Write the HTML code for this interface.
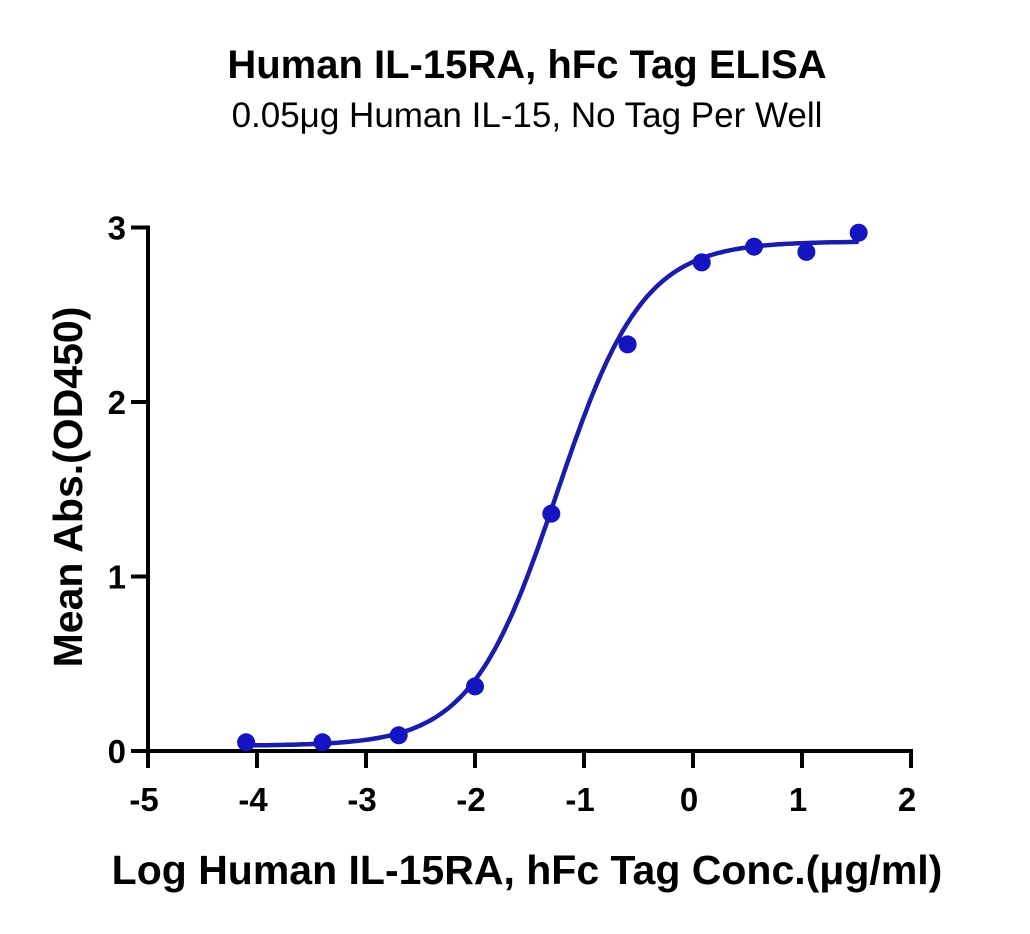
<!DOCTYPE html>
<html><head><meta charset="utf-8"><style>
body{margin:0;background:#fff;}
svg text{font-family:"Liberation Sans",Arial,sans-serif;}
</style></head><body>
<svg id="chart" width="1030" height="929" xmlns="http://www.w3.org/2000/svg">
<text x="527" y="78" text-anchor="middle" font-size="40" font-weight="bold">Human IL-15RA, hFc Tag ELISA</text>
<text x="527" y="127" text-anchor="middle" font-size="35">0.05μg Human IL-15, No Tag Per Well</text>
<text transform="translate(82,487) rotate(-90)" text-anchor="middle" font-size="41" font-weight="bold">Mean Abs.(OD450)</text>
<text x="527" y="884" text-anchor="middle" font-size="41" font-weight="bold">Log Human IL-15RA, hFc Tag Conc.(μg/ml)</text>
<g id="axes"></g>
<g id="marks"></g>
</svg>
<script>
const xTicks=[-5,-4,-3,-2,-1,0,1,2];
const yTicks=[0,1,2,3];
const xVals=[-4.1,-3.4,-2.7,-2.0,-1.3,-0.6,0.08,0.56,1.04,1.52];
const yVals=[0.05,0.05,0.09,0.37,1.36,2.33,2.80,2.89,2.86,2.97];
const fitBottom=0.03, fitTop=2.92, fitLogEC50=-1.25, fitHill=1.1;
const NS='http://www.w3.org/2000/svg';
const X=v=>148+(v+5)*109;
const Y=v=>751-v*174.5;
function mk(tag,attrs,parent){const e=document.createElementNS(NS,tag);for(const k in attrs)e.setAttribute(k,attrs[k]);parent.appendChild(e);return e;}
const axes=document.getElementById('axes'),marks=document.getElementById('marks');
let e=mk('line',{x1:X(-5),y1:Y(0),x2:X(2)+2,y2:Y(0),stroke:'#000','stroke-width':4},axes);

e=mk('line',{x1:X(-5),y1:Y(0)+2,x2:X(-5),y2:Y(3)-2,stroke:'#000','stroke-width':4},axes);

xTicks.forEach(t=>{
 let l=mk('line',{x1:X(t),y1:Y(0),x2:X(t),y2:Y(0)+17,stroke:'#000','stroke-width':4},axes);
 
 let s=mk('text',{x:X(t)-4,y:Y(0)+60,'text-anchor':'middle','font-size':33,'font-weight':'bold'},axes);s.textContent=t;
 
});
yTicks.forEach(t=>{
 let l=mk('line',{x1:X(-5)-17,y1:Y(t),x2:X(-5),y2:Y(t),stroke:'#000','stroke-width':4},axes);
 
 let s=mk('text',{x:X(-5)-22,y:Y(t)+12,'text-anchor':'end','font-size':33,'font-weight':'bold'},axes);s.textContent=t;
 
});
let d='';
for(let i=0;i<=200;i++){const x=-4.1+i*(1.52+4.1)/200;const y=fitBottom+(fitTop-fitBottom)/(1+Math.pow(10,fitHill*(fitLogEC50-x)));d+=(i?'L':'M')+X(x).toFixed(1)+' '+Y(y).toFixed(1);}
e=mk('path',{d:d,fill:'none',stroke:'#1c1caa','stroke-width':4.5},marks);

xVals.forEach((v,i)=>{const c=mk('circle',{cx:X(v),cy:Y(yVals[i]),r:9,fill:'#1414c0'},marks);
 });
</script>
</body></html>
